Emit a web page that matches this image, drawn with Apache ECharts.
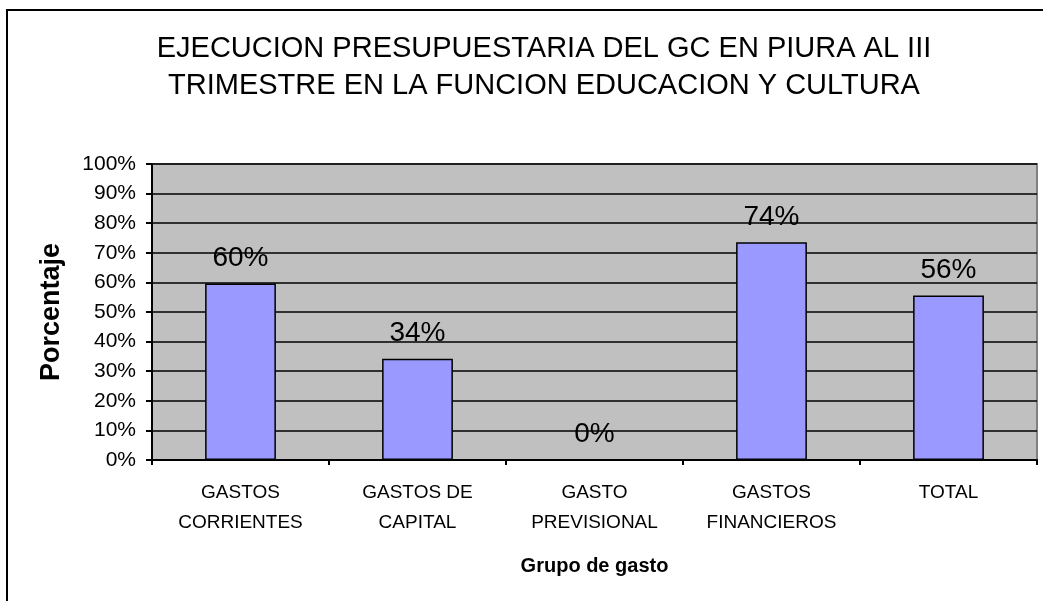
<!DOCTYPE html>
<html>
<head>
<meta charset="utf-8">
<title>Ejecucion presupuestaria</title>
<script src="https://cdn.jsdelivr.net/npm/echarts@6/dist/echarts.min.js"></script>
<style>
  html, body { margin: 0; padding: 0; background: #fff; }
  #gastoChart { width: 1043px; height: 601px; }
</style>
</head>
<body>
<div id="gastoChart"></div>
<script>
// datos del grafico
var categorias = ['GASTOS\nCORRIENTES', 'GASTOS DE\nCAPITAL', 'GASTO\nPREVISIONAL', 'GASTOS\nFINANCIEROS', 'TOTAL'];
var porcentajes = [59.6, 34.2, 0, 73.6, 55.6];
var ticksY = ['0%', '10%', '20%', '30%', '40%', '50%', '60%', '70%', '80%', '90%', '100%'];

var gastoChart = '';
var gastoOpt = '';
var fuente = 'Arial, "Liberation Sans", sans-serif';

gastoOpt = {
  animation: false,
  title: {
    text: 'EJECUCION PRESUPUESTARIA DEL GC EN PIURA AL III\nTRIMESTRE EN LA FUNCION EDUCACION Y CULTURA',
    left: 539,
    top: 25,
    textAlign: 'center',
    textStyle: {
      fontFamily: fuente,
      fontSize: 29,
      fontWeight: 'normal',
      color: '#000',
      lineHeight: 37
    }
  },
  // marco exterior
  graphic: [{
    type: 'rect',
    shape: { x: 7, y: 10, width: 1100, height: 700 },
    style: { fill: null, stroke: '#000', lineWidth: 2 },
    z: 100
  }],
  grid: {
    left: 152,
    top: 164,
    right: 6,
    bottom: 141,
    show: true,
    backgroundColor: '#C0C0C0',
    borderColor: '#808080',
    borderWidth: 2
  },
  xAxis: {
    type: 'category',
    data: categorias,
    name: 'Grupo de gasto',
    nameLocation: 'middle',
    nameGap: 96,
    nameTextStyle: { fontFamily: fuente, fontSize: 20, fontWeight: 'bold', color: '#000' },
    axisLine: { lineStyle: { color: '#000', width: 2 } },
    axisTick: { show: true, length: 5, lineStyle: { color: '#000', width: 2 } },
    axisLabel: {
      margin: 18,
      fontFamily: fuente,
      fontSize: 19,
      lineHeight: 30,
      color: '#000',
      interval: 0
    }
  },
  yAxis: {
    type: 'value',
    min: 0,
    max: 100,
    interval: 10,
    name: 'Porcentaje',
    nameLocation: 'middle',
    nameRotate: 90,
    nameGap: 87,
    nameTextStyle: { fontFamily: fuente, fontSize: 27, fontWeight: 'bold', color: '#000' },
    axisLine: { show: true, lineStyle: { color: '#000', width: 2 } },
    axisTick: { show: true, length: 6, lineStyle: { color: '#000', width: 2 } },
    axisLabel: {
      margin: 16,
      fontFamily: fuente,
      fontSize: 21,
      color: '#000',
      formatter: function (v) { return ticksY[Math.round(v / 10)]; }
    },
    splitLine: { show: true, lineStyle: { color: '#000', width: 1.5 } }
  },
  series: [{
    name: 'Porcentaje',
    type: 'bar',
    data: porcentajes,
    barWidth: '40%',
    itemStyle: { color: '#9999FF', borderColor: '#000', borderWidth: 1.5 },
    label: {
      show: true,
      position: 'top',
      distance: 11,
      fontFamily: fuente,
      fontSize: 28,
      color: '#000',
      formatter: function (p) { return Math.round(p.value) + '%'; }
    }
  }]
};

gastoChart = echarts.init(document.getElementById('gastoChart'));
gastoChart.setOption(gastoOpt);
</script>
</body>
</html>
